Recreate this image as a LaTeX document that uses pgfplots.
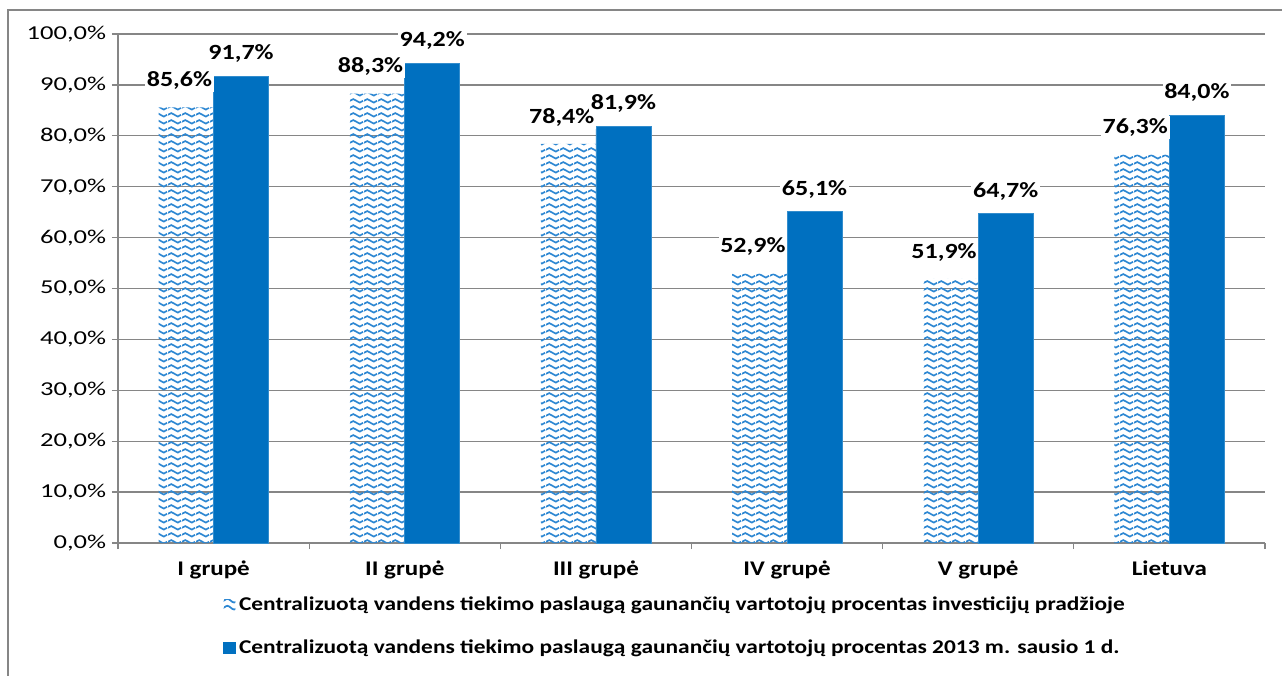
\documentclass[border=0pt]{standalone}
\usepackage{fontspec}
\setmainfont{Carlito}[FakeStretch=1.2]
\newfontfamily\tickfont{Carlito}[FakeStretch=1.35]
\usepackage{pgfplots}
\pgfplotsset{compat=1.18}
\usetikzlibrary{patterns.meta}
\definecolor{barblue}{RGB}{0,112,192}
\definecolor{wavecol}{RGB}{45,135,210}
\definecolor{gridgray}{RGB}{134,134,134}

\tikzdeclarepattern{
  name=wave,
  type=uncolored,
  bounding box={(0pt,-1.4pt) and (8.4pt,2.6pt)},
  tile size={(8.4pt,4pt)},
  code={
    \draw[line width=1.05pt] (0pt,0.6pt) sin (2.1pt,1.7pt) cos (4.2pt,0.6pt) sin (6.3pt,-0.5pt) cos (8.4pt,0.6pt);
  }
}

\begin{document}
\begin{tikzpicture}
\begin{axis}[
  at={(0,0)}, anchor=south west,
  scale only axis, width=688.2pt, height=305.4pt,
  ybar=0pt, bar width=33pt,
  xmin=-0.5, xmax=5.5, ymin=0, ymax=100,
  xtick={-0.5,0.5,...,5.5}, xticklabels={},
  extra x ticks={0,1,2,3,4,5},
  extra x tick labels={I grupė, II grupė, III grupė, IV grupė, V grupė, Lietuva},
  extra x tick style={major tick length=0pt, grid=none},
  ytick={0,10,...,100},
  yticklabel={\pgfmathprintnumber[fixed,fixed zerofill,precision=1,use comma]{\tick}\%},
  /pgf/number format/assume math mode=true,
  axis x line*=bottom, axis y line*=left,
  axis line style={gridgray, line width=0.9pt, -},
  ymajorgrids, grid style={gridgray, line width=0.75pt},
  tick align=outside,
  major tick length=3.6pt,
  tick style={gridgray, line width=0.75pt},
  xticklabel style={font=\fontsize{12.5}{14}\selectfont\bfseries, yshift=-7pt},
  yticklabel style={font=\tickfont\fontsize{11.8}{13}\selectfont},
  nodes near coords={\pgfmathprintnumber[fixed,fixed zerofill,precision=1,use comma]{\pgfplotspointmeta}\%},
  every node near coord/.append style={font=\fontsize{13}{15}\selectfont\bfseries, fill=white, inner xsep=1pt, inner ysep=1.5pt, yshift=6.5pt, text=black},
  legend style={at={(axis description cs:0.0872,-0.092)}, anchor=north west, draw=none, fill=none,
    font=\fontsize{11.7}{13}\selectfont\bfseries, row sep=12pt},
  legend cell align=left,
]
\addplot[pattern=wave, pattern color=wavecol, draw=none,
  every node near coord/.append style={xshift=-4pt, yshift=2.5pt},
  legend image code/.code={\fill[pattern=wave, pattern color=wavecol] (0pt,-3.5pt) rectangle (7pt,3.5pt);}]
  coordinates {(0,85.6) (1,88.3) (2,78.4) (3,52.9) (4,51.9) (5,76.3)};
\addlegendentry{Centralizuotą vandens tiekimo paslaugą gaunančių vartotojų procentas investicijų pradžioje}
\addplot[fill=barblue, draw=barblue!80!white,
  legend image code/.code={\fill[barblue] (0pt,-3.5pt) rectangle (7pt,3.5pt);}]
  coordinates {(0,91.7) (1,94.2) (2,81.9) (3,65.1) (4,64.7) (5,84.0)};
\addlegendentry{Centralizuotą vandens tiekimo paslaugą gaunančių vartotojų procentas 2013 m. sausio 1 d.}
\end{axis}
\draw[gridgray, line width=0.9pt] (-66pt,-85pt) -- (-66pt,319.8pt) -- (705pt,319.8pt);
\pgfresetboundingbox
\path[use as bounding box] (-70.8pt,-79.2pt) rectangle (698.4pt,325.8pt);
\end{tikzpicture}
\end{document}
